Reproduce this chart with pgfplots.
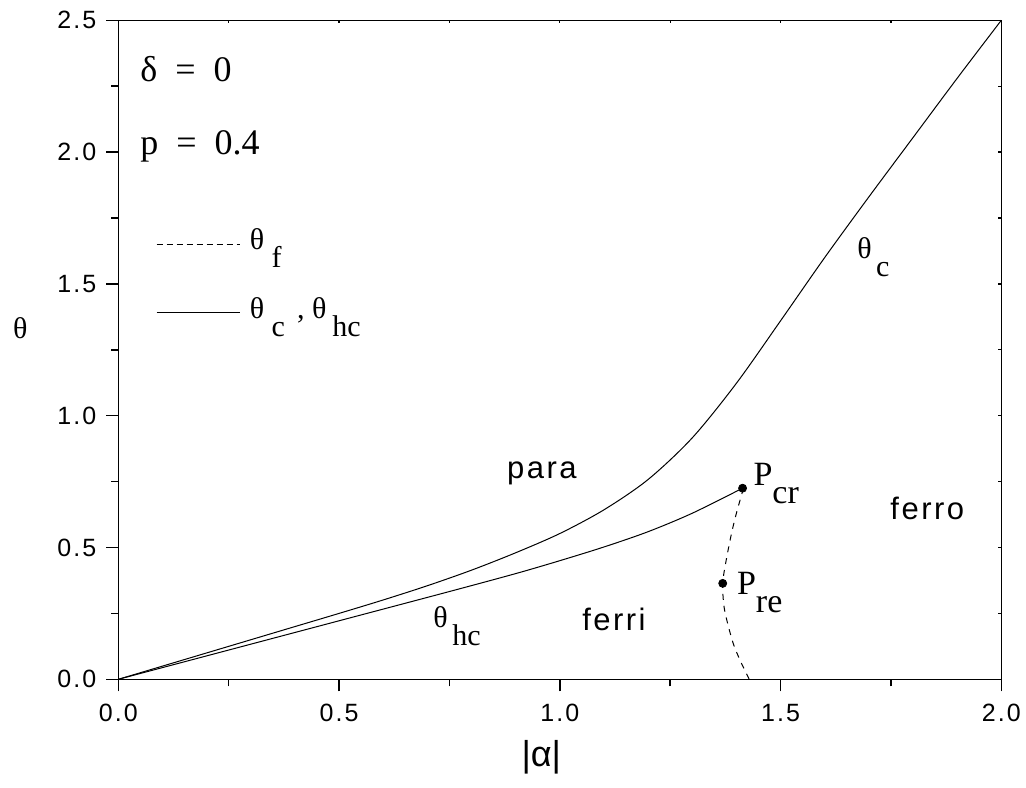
\documentclass[border=0pt]{standalone}
\usepackage{fontspec}
\setmainfont{Liberation Serif}
\setsansfont{Liberation Sans}
\newfontfamily\lsans[LetterSpace=8]{Liberation Sans}
\usepackage{pgfplots}
\pgfplotsset{compat=1.18}
% lowered subscript, same size as the symbol
\newcommand{\low}[1]{\raisebox{-9pt}{#1}}
\begin{document}
\begin{tikzpicture}
\useasboundingbox (-59.15pt,-53.85pt) rectangle (453.85pt,339.65pt);
\begin{axis}[
    at={(0,0)}, anchor=south west,
    scale only axis,
    width=441.5pt, height=329.5pt,
    xmin=0, xmax=2, ymin=0, ymax=2.5,
    xtick={0,0.5,...,2}, ytick={0,0.5,...,2.5},
    minor x tick num=1, minor y tick num=1,
    xtick pos=left, ytick pos=left,
    tick align=outside,
    major tick length=6pt, minor tick length=3.5pt,
    axis line style={line width=0.75pt},
    every tick/.style={black, line width=0.75pt},
    /pgf/number format/assume math mode=true,
    /pgf/number format/.cd, fixed, fixed zerofill, precision=1, /pgfplots/.cd,
    tick label style={font=\lsans\fontsize{12.5}{13}\selectfont},
    xticklabel style={yshift=-3pt},
    yticklabel style={xshift=-1.5pt},
    xlabel={\sffamily\fontsize{18}{18}\selectfont |α|},
    ylabel={\fontsize{15}{15}\selectfont θ},
    every axis x label/.style={at={(axis description cs:0.479,-0.118)}, anchor=center},
    every axis y label/.style={at={(axis description cs:-0.111,0.533)}, anchor=center},
    clip=false,
]
% theta_c
\addplot[black, line width=0.5pt, smooth] coordinates {
(0,0) (0.1,0.05) (0.2,0.1) (0.3,0.15) (0.4,0.2) (0.5,0.25) (0.6,0.301)
(0.7,0.355) (0.8,0.414) (0.9,0.48) (1.0,0.553) (1.1,0.643) (1.2,0.758)
(1.3,0.916) (1.4,1.123) (1.5,1.36) (1.6,1.6) (1.7,1.83) (1.8,2.055)
(1.9,2.28) (2.0,2.5)
};
% theta_hc
\addplot[black, line width=0.5pt, smooth] coordinates {
(0,0) (0.25,0.111) (0.5,0.222) (0.75,0.333) (0.9,0.401) (1.0,0.45)
(1.1,0.502) (1.2,0.56) (1.3,0.63) (1.414,0.725)
};
% theta_f
\addplot[black, line width=0.5pt, dashed, smooth] coordinates {
(1.416,0.725) (1.400,0.63) (1.389,0.554) (1.377,0.453) (1.369,0.364)
(1.372,0.275) (1.382,0.2) (1.394,0.13) (1.41,0.066) (1.429,0)
};
% P_cr, P_re
\addplot[only marks, mark=*, mark size=2pt, black] coordinates {
(1.414,0.725) (1.369,0.364)
};
% legend samples
\addplot[black, line width=0.5pt, densely dashed] coordinates {(0.087,1.650) (0.276,1.650)};
\addplot[black, line width=0.5pt] coordinates {(0.087,1.391) (0.276,1.391)};

\node[anchor=base west, inner sep=0pt, font=\fontsize{18}{18}\selectfont] at (axis cs:0.049,2.267) {δ\hspace{0.5em}=\hspace{0.5em}0};
\node[anchor=base west, inner sep=0pt, font=\fontsize{18}{18}\selectfont] at (axis cs:0.049,1.989) {p\hspace{0.5em}=\hspace{0.5em}0.4};
\node[anchor=base west, inner sep=0pt, font=\fontsize{15}{15}\selectfont] at (axis cs:0.297,1.629) {θ\hspace{0.25em}\low{f}};
\node[anchor=base west, inner sep=0pt, font=\fontsize{15}{15}\selectfont] at (axis cs:0.297,1.369) {θ\hspace{0.25em}\low{c}\hspace{0.4em}, θ\hspace{0.2em}\low{hc}};
\node[anchor=base west, inner sep=0pt, font=\fontsize{15}{15}\selectfont] at (axis cs:1.673,1.597) {θ\hspace{0.15em}\low{c}};
\node[anchor=base west, inner sep=0pt, font=\fontsize{15}{15}\selectfont] at (axis cs:0.713,0.195) {θ\hspace{0.15em}\low{hc}};
\node[anchor=base west, inner sep=0pt, font=\fontsize{17}{17}\selectfont] at (axis cs:1.438,0.737) {P\low{cr}};
\node[anchor=base west, inner sep=0pt, font=\fontsize{17}{17}\selectfont] at (axis cs:1.4006,0.320) {P\low{re}};
\node[anchor=base west, inner sep=0pt, font=\lsans\fontsize{15.5}{15.5}\selectfont] at (axis cs:0.880,0.7625) {para};
\node[anchor=base west, inner sep=0pt, font=\lsans\fontsize{15.5}{15.5}\selectfont] at (axis cs:1.050,0.187) {ferri};
\node[anchor=base west, inner sep=0pt, font=\lsans\fontsize{15.5}{15.5}\selectfont] at (axis cs:1.748,0.605) {ferro};
\end{axis}
% tiny inward ticks on top and right
\begin{axis}[
    at={(0,0)}, anchor=south west,
    scale only axis,
    width=441.5pt, height=329.5pt,
    xmin=0, xmax=2, ymin=0, ymax=2.5,
    xtick={0,0.5,...,2}, ytick={0,0.5,...,2.5},
    minor x tick num=1, minor y tick num=1,
    xtick pos=right, ytick pos=right,
    tick align=inside,
    major tick length=1.5pt, minor tick length=1.5pt,
    axis line style={line width=0.75pt},
    every tick/.style={black, line width=0.6pt},
    xticklabels={}, yticklabels={},
]
\end{axis}
\end{tikzpicture}
\end{document}
